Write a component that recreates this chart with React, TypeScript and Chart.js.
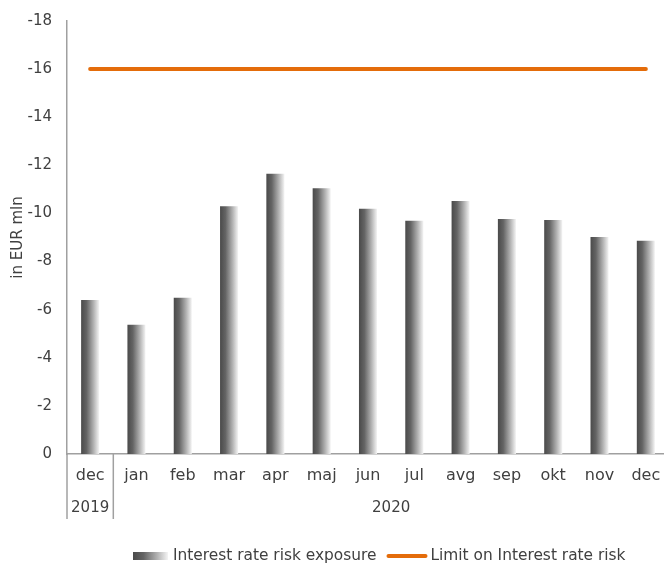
import React, { useEffect, useRef } from 'react';
import { Chart, registerables } from 'chart.js';

Chart.register(...registerables);

const months = ['dec', 'jan', 'feb', 'mar', 'apr', 'maj', 'jun', 'jul', 'avg', 'sep', 'okt', 'nov', 'dec'];
const years = ['2019', '2020'];
const yearSpans = [1, 12];
const exposure = [-6.4, -5.37, -6.5, -10.3, -11.65, -11.05, -10.2, -9.7, -10.52, -9.77, -9.73, -9.02, -8.87];
const limit = [-16, -16, -16, -16, -16, -16, -16, -16, -16, -16, -16, -16, -16];
const yMin = -18;
const yMax = 0;
const yStep = 2;
const seriesLabels = ['Interest rate risk exposure', 'Limit on Interest rate risk'];

const FONT = 'DejaVu Sans';
const TEXT = '#404040';
const AXIS = '#a0a0a0';
const ORANGE = '#E46C0A';
const BAR_PCT = 0.39;

function barGradient(ctx: CanvasRenderingContext2D, x0: number, x1: number) {
  const g = ctx.createLinearGradient(x0, 0, x1, 0);
  g.addColorStop(0, '#4a4a4a');
  g.addColorStop(0.3, '#646464');
  g.addColorStop(0.7, '#b4b4b4');
  g.addColorStop(1, '#f4f4f4');
  return g;
}

const extrasPlugin = {
  id: 'extras',
  afterDraw(chart: any) {
    const { ctx, chartArea } = chart;
    const xs = chart.scales.x;
    ctx.save();
    const half = (xs.getPixelForValue(1) - xs.getPixelForValue(0)) / 2;
    let idx = 0;
    ctx.strokeStyle = AXIS;
    ctx.lineWidth = 1.5;
    ctx.fillStyle = TEXT;
    ctx.font = `15px "${FONT}"`;
    ctx.textAlign = 'center';
    ctx.textBaseline = 'middle';
    years.forEach((yr, k) => {
      const left = xs.getPixelForValue(idx) - half;
      const right = xs.getPixelForValue(idx + yearSpans[k] - 1) + half;
      ctx.beginPath();
      ctx.moveTo(left, chartArea.bottom);
      ctx.lineTo(left, chartArea.bottom + 65);
      ctx.stroke();
      ctx.fillText(yr, (left + right) / 2, chartArea.bottom + 54);
      idx += yearSpans[k];
    });
    const ly = 556;
    ctx.textAlign = 'left';
    ctx.font = `15.4px "${FONT}"`;
    let x = 133;
    ctx.fillStyle = barGradient(ctx, x, x + 35);
    ctx.fillRect(x, ly - 4, 35, 8);
    x += 40;
    ctx.fillStyle = TEXT;
    ctx.fillText(seriesLabels[0], x, ly);
    x += ctx.measureText(seriesLabels[0]).width + 10;
    ctx.strokeStyle = ORANGE;
    ctx.lineWidth = 4;
    ctx.lineCap = 'round';
    ctx.beginPath();
    ctx.moveTo(x + 2, ly);
    ctx.lineTo(x + 39, ly);
    ctx.stroke();
    x += 44;
    ctx.fillText(seriesLabels[1], x, ly);
    ctx.restore();
  },
};

export default function App() {
  const ref = useRef<HTMLCanvasElement>(null);
  useEffect(() => {
    document.body.style.margin = '0';
    if (!ref.current) return;
    const chart = new Chart(ref.current, {
      type: 'bar',
      data: {
        labels: months,
        datasets: [
          {
            type: 'bar',
            label: seriesLabels[0],
            data: exposure,
            barPercentage: BAR_PCT,
            categoryPercentage: 1,
            borderWidth: 0,
            backgroundColor: (c: any) => {
              const ch = c.chart;
              const xs = ch.scales && ch.scales.x;
              if (!xs || c.dataIndex == null) return '#777777';
              const cx = xs.getPixelForValue(c.dataIndex);
              const w = (xs.width / months.length) * BAR_PCT;
              if (!isFinite(cx) || !isFinite(w) || w <= 0) return '#777777';
              return barGradient(ch.ctx, cx - w / 2, cx + w / 2);
            },
            order: 2,
          } as any,
          {
            type: 'line',
            label: seriesLabels[1],
            data: limit,
            borderColor: ORANGE,
            backgroundColor: ORANGE,
            borderWidth: 4,
            borderCapStyle: 'round',
            pointRadius: 0,
            pointHoverRadius: 0,
            fill: false,
            order: 1,
          } as any,
        ],
      },
      options: {
        animation: false,
        responsive: true,
        maintainAspectRatio: false,
        layout: { padding: { top: 21, left: 0, right: 0, bottom: 0 } },
        plugins: {
          legend: { display: false },
          tooltip: { enabled: false },
        },
        scales: {
          x: {
            offset: true,
            grid: { display: false, drawTicks: false },
            border: { display: true, color: AXIS, width: 1.5 },
            ticks: {
              color: TEXT,
              font: { family: FONT, size: 16 },
              padding: 12,
              autoSkip: false,
              maxRotation: 0,
            },
            afterFit: (s: any) => {
              s.height = 109;
              s.paddingLeft = 0;
              s.paddingRight = 0;
            },
          },
          y: {
            reverse: true,
            min: yMin,
            max: yMax,
            grid: { display: false, drawTicks: false },
            border: { display: true, color: AXIS, width: 1.5 },
            ticks: {
              stepSize: yStep,
              color: TEXT,
              font: { family: FONT, size: 15 },
              padding: 15,
            },
            title: {
              display: true,
              text: 'in EUR mln',
              color: TEXT,
              font: { family: FONT, size: 15 },
              padding: { top: 9, bottom: 0 },
            },
            afterFit: (s: any) => {
              s.width = 67;
              s.paddingTop = 0;
              s.paddingBottom = 0;
            },
          },
        },
      },
      plugins: [extrasPlugin],
    });
    return () => chart.destroy();
  }, []);
  return (
    <div style={{ width: 664, height: 563, overflow: 'hidden' }}>
      <div style={{ width: 669, height: 563, position: 'relative' }}>
        <canvas ref={ref} />
      </div>
    </div>
  );
}
